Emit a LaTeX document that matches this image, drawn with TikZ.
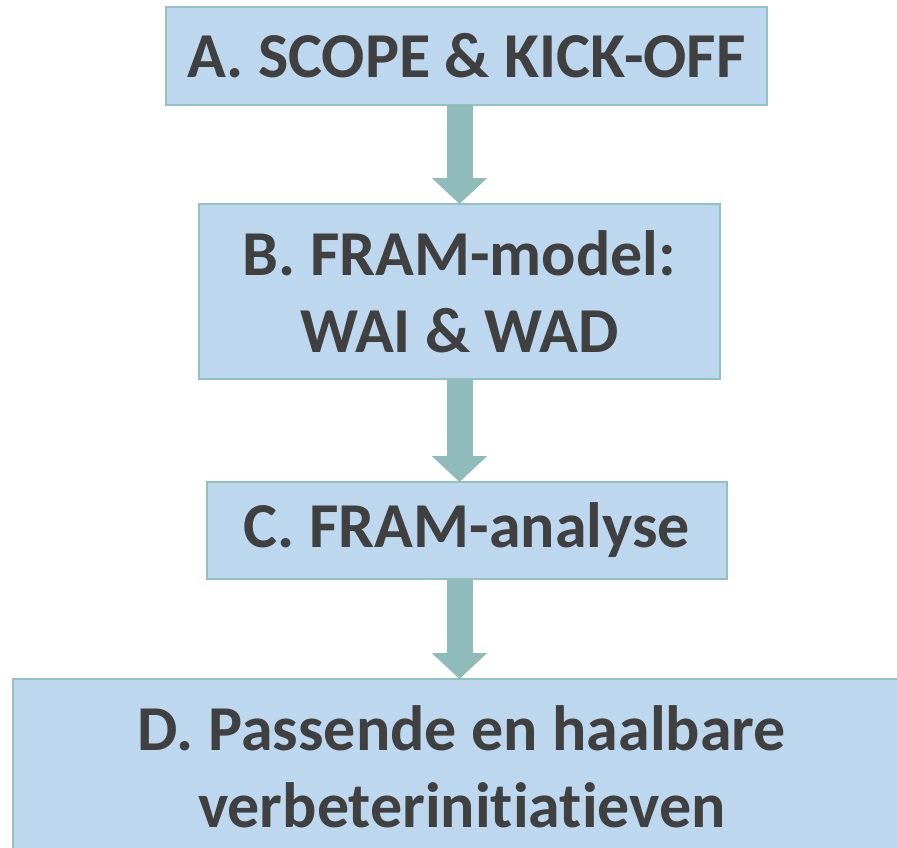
\documentclass[tikz,border=0pt]{standalone}
\usepackage{fontspec}
\setmainfont[Ligatures=NoCommon]{Carlito}
\usepackage{xcolor}
\usepackage{tikz}
\usetikzlibrary{arrows.meta,positioning}
\definecolor{framfill}{HTML}{BDD7EE}
\definecolor{framline}{HTML}{93C1BE}
\definecolor{framarrow}{HTML}{8FBCBB}
\definecolor{framtext}{HTML}{404040}

\begin{document}
\begin{tikzpicture}[x=1pt, y=-1pt,
  stage/.style={draw=framline, line width=1.5pt, fill=framfill, inner sep=0pt, outer sep=0pt, align=center, text=framtext, font=\bfseries\fontsize{64}{77}\selectfont},
  flow/.style={-{Triangle[length=26pt, width=54pt]}, line width=26pt, draw=framarrow, color=framarrow}
]
\useasboundingbox (0,0) rectangle (897,848);
\clip (0,0) rectangle (897,848);

\node[stage, minimum width=601pt, minimum height=98pt] (scope) at (466.5,56) {A. SCOPE \& KICK-OFF};
\node[stage, minimum width=521pt, minimum height=175pt, below=99pt of scope, xshift=-7pt] (model) {B. FRAM-model:\\WAI \& WAD};
\node[stage, minimum width=520pt, minimum height=97pt, below=103pt of model, xshift=7.5pt] (analyse) {C. FRAM-analyse};
\node[stage, minimum width=898pt, minimum height=175pt, below=100pt of analyse, xshift=-5pt] (improve) {D. Passende en haalbare\\verbeterinitiatieven};

\draw[flow] (model.north |- scope.south) -- (model.north);
\draw[flow] (model.south) -- (model.south |- analyse.north);
\draw[flow] (model.south |- analyse.south) -- (model.south |- improve.north);
\end{tikzpicture}
\end{document}
